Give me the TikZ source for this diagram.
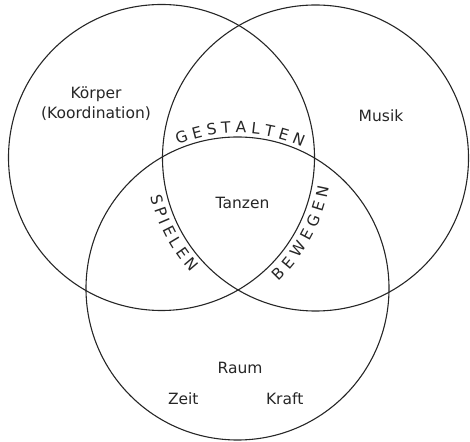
\documentclass[tikz,border=0pt]{standalone}
\usepackage{fontspec}
\setmainfont{DejaVu Sans}
\usetikzlibrary{decorations.text}
\newcommand{\labelfont}{\fontsize{15.5}{18}\selectfont}

\begin{document}
\begin{tikzpicture}[x=1pt, y=1pt, every node/.style={font=\labelfont, text=black!85, inner sep=0pt},
	ring/.style={black!85, line width=1.1pt},
	curved/.style={decorate, decoration={text along path, text align={fit to path}, text color=black!85, text={|\labelfont|#1}}}]
	\useasboundingbox (0,0) rectangle (470,441);
	\coordinate (L) at (161.5,283.5);
	\coordinate (R) at (315.5,283);
	\coordinate (B) at (237.5,152.5);
	\draw[ring] (L) circle (153);
	\draw[ring] (R) circle (153);
	\draw[ring] (B) circle (151.5);
	\path[curved=GESTALTEN] ([shift={(112.5:155.5)}]B) arc[start angle=112.5, end angle=65.5, radius=155.5];
	\path[curved=SPIELEN] ([shift={(193:169)}]R) arc[start angle=193, end angle=222.5, radius=169];
	\path[curved=BEWEGEN] ([shift={(313.3:170)}]L) arc[start angle=313.3, end angle=350, radius=170];
	\node[anchor=base] (koerper) at (96,342.7) {Körper};
	\node[anchor=base] (koord) at (96,322) {(Koordination)};
	\node[anchor=base] (musik) at (381,319.3) {Musik};
	\node[anchor=base] (tanzen) at (242.5,232.7) {Tanzen};
	\node[anchor=base] (raum) at (240,67) {Raum};
	\node[anchor=base] (zeit) at (183.3,36.7) {Zeit};
	\node[anchor=base] (kraft) at (284.7,36.7) {Kraft};
\end{tikzpicture}
\end{document}
